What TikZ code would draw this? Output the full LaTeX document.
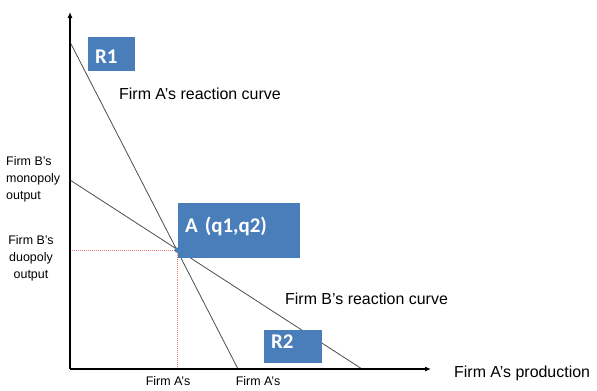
\documentclass[tikz,border=0pt]{standalone}
\usepackage{fontspec}
\setmainfont{Liberation Sans}
\newfontfamily\tagfont{Carlito}
\usetikzlibrary{arrows.meta,positioning}
\definecolor{tagblue}{RGB}{74,126,187}
\definecolor{guidered}{RGB}{236,130,120}

\begin{document}
\begin{tikzpicture}[x=1bp,y=-1bp,every node/.style={inner sep=0pt},
  axis/.style={line width=1.1pt,-{Latex[length=6bp,width=5bp]}},
  reaction/.style={line width=0.8pt,black!70},
  guide/.style={guidered,line width=0.45pt,dash pattern=on 1pt off 1pt},
  tag/.style={fill=tagblue,text=white,anchor=north west,align=left,inner xsep=7bp,
    font=\tagfont\bfseries\fontsize{21}{24}\selectfont},
  curvelabel/.style={anchor=base west,font=\fontsize{16}{19}\selectfont},
  sidelabel/.style={font=\fontsize{12.5}{17}\selectfont}]
\useasboundingbox (0,0) rectangle (597,390);
\coordinate (O) at (70,369);
\coordinate (ytip) at (70,12);
\coordinate (xtip) at (431,369);
\coordinate (r1top) at (70,42);
\coordinate (r1end) at (238,369);
\coordinate (r2top) at (70,180);
\coordinate (r2end) at (362,369);
\coordinate (eq) at (177,250);
\coordinate (eqy) at (70,250);
\coordinate (eqx) at (177,369);
\draw[guide] (eqy)--(eq)--(eqx);
\draw[reaction] (r1top)--(r1end);
\draw[reaction] (r2top)--(r2end);
\draw[axis] (O)--(ytip);
\draw[axis] (O)--(xtip);
\fill[tagblue] (eq) circle (2.6bp);
\node[tag,text width=33bp,inner ysep=4bp,text height=22bp,text depth=4bp] (R1) at (88,37) {R1};
\node[tag,text width=108bp,inner ysep=4bp,text height=25bp,text depth=22bp] (Aq) at (178,203) {A (q1,q2)};
\node[tag,text width=44bp,inner ysep=4bp,text height=14bp,text depth=11bp] (R2) at (264,330) {R2};
\node[curvelabel] (Alab) at (119,99) {Firm A's reaction curve};
\node[curvelabel] (Blab) at (285,304) {Firm B's reaction curve};
\node[curvelabel] (xlab) at (454,377) {Firm A's production};
\node[sidelabel,align=left,anchor=north west] (mono) at (6,156) {Firm B's\\monopoly\\output};
\node[sidelabel,align=center,anchor=north] (duo) at (31,235) {Firm B's\\duopoly\\output};
\foreach \x/\n in {168/qa,258/qb}{\node[sidelabel,anchor=north] (\n) at (\x,376) {Firm A's};}
\end{tikzpicture}
\end{document}
